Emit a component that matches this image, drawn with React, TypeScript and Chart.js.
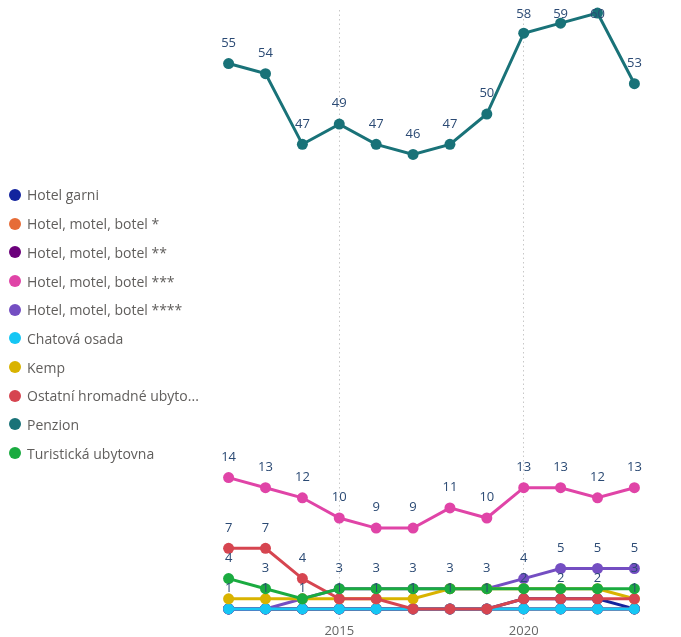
import React, { useEffect, useRef } from "react";
import { Chart, registerables } from "chart.js";

Chart.register(...registerables);

const years = ["2012", "2013", "2014", "2015", "2016", "2017", "2018", "2019", "2020", "2021", "2022", "2023"];
const shownYearTicks = ["2015", "2020"];

const seriesNames = [
  "Hotel garni",
  "Hotel, motel, botel *",
  "Hotel, motel, botel **",
  "Hotel, motel, botel ***",
  "Hotel, motel, botel ****",
  "Chatová osada",
  "Kemp",
  "Ostatní hromadné ubyto...",
  "Penzion",
  "Turistická ubytovna",
];

const seriesColors = [
  "#12239E",
  "#E66C37",
  "#6B007B",
  "#E044A7",
  "#744EC2",
  "#15C6F4",
  "#D9B300",
  "#D64550",
  "#197278",
  "#1AAB40",
];

const hotelGarni = [1, 1, 1, 1, 1, 1, 1, 1, 2, 2, 2, 1];
const hotel1 = [1, 1, 1, 1, 1, 1, 1, 1, 1, 1, 1, 1];
const hotel2 = [1, 1, 1, 1, 1, 1, 1, 1, 1, 1, 1, 1];
const hotel3 = [14, 13, 12, 10, 9, 9, 11, 10, 13, 13, 12, 13];
const hotel4 = [1, 1, 2, 3, 3, 3, 3, 3, 4, 5, 5, 5];
const chatovaOsada = [1, 1, 1, 1, 1, 1, 1, 1, 1, 1, 1, 1];
const kemp = [2, 2, 2, 2, 2, 2, 3, 3, 3, 3, 3, 2];
const ostatni = [7, 7, 4, 2, 2, 1, 1, 1, 2, 2, 2, 2];
const penzion = [55, 54, 47, 49, 47, 46, 47, 50, 58, 59, 60, 53];
const turisticka = [4, 3, 2, 3, 3, 3, 3, 3, 3, 3, 3, 3];

const seriesValues = [hotelGarni, hotel1, hotel2, hotel3, hotel4, chatovaOsada, kemp, ostatni, penzion, turisticka];

// indices of years whose data label is visible (others hidden as overlapping)
const labelsShown = [
  [],
  [],
  [],
  [0, 1, 2, 3, 4, 5, 6, 7, 8, 9, 10, 11],
  [8, 9, 10, 11],
  [0, 1, 2, 3, 4, 5, 6, 7, 11],
  [],
  [0, 1, 2, 8, 9, 10],
  [0, 1, 2, 3, 4, 5, 6, 7, 8, 9, 10, 11],
  [0, 1, 3, 4, 5, 6, 7, 11],
];

const FONT = '"Segoe UI", "Open Sans", sans-serif';

const dataLabelPlugin = {
  id: "dataLabels",
  afterDatasetsDraw(chart: any) {
    const ctx = chart.ctx;
    ctx.save();
    ctx.font = `13px ${FONT}`;
    ctx.fillStyle = "#2B4A74";
    ctx.textAlign = "center";
    ctx.textBaseline = "middle";
    chart.data.datasets.forEach((ds: any, di: number) => {
      const meta = chart.getDatasetMeta(di);
      const shown = labelsShown[di] || [];
      shown.forEach((i: number) => {
        const el = meta.data[i];
        if (!el) return;
        const y = Math.max(el.y - 20.5, 14);
        ctx.fillText(String(ds.data[i]), el.x, y);
      });
    });
    ctx.restore();
  },
};

export default function App() {
  const canvasRef = useRef<HTMLCanvasElement | null>(null);

  useEffect(() => {
    document.body.style.margin = "0";
    const canvas = canvasRef.current;
    if (!canvas) return;
    const n = seriesNames.length;
    const chart = new Chart(canvas, {
      type: "line",
      data: {
        labels: years,
        datasets: seriesNames.map((name, i) => ({
          label: name,
          data: seriesValues[i],
          borderColor: seriesColors[i],
          backgroundColor: seriesColors[i],
          pointBackgroundColor: seriesColors[i],
          pointBorderWidth: 0,
          pointRadius: 5.5,
          borderWidth: 3,
          tension: 0,
          clip: false as any,
          order: n - i,
        })),
      },
      options: {
        responsive: false,
        animation: false,
        devicePixelRatio: 1,
        layout: { padding: { left: 228.6, right: 46.6, top: 10, bottom: 0 } },
        plugins: {
          legend: { display: false },
          tooltip: { enabled: false },
        },
        scales: {
          x: {
            type: "category",
            offset: false,
            afterFit: (scale: any) => {
              scale.height = 18;
            },
            grid: {
              drawTicks: false,
              lineWidth: 1,
              color: (c: any) =>
                c.tick && shownYearTicks.includes(years[c.tick.value] ?? String(c.tick.label))
                  ? "#c8c8c8"
                  : "rgba(0,0,0,0)",
            },
            border: { display: false, dash: [1.5, 3] },
            ticks: {
              autoSkip: false,
              maxRotation: 0,
              padding: 4,
              color: "#666666",
              font: { family: FONT, size: 13 },
              callback: (v: any) => (shownYearTicks.includes(years[v]) ? years[v] : ""),
            },
          },
          y: {
            display: false,
            min: 0,
            max: 60.3,
          },
        },
      },
      plugins: [dataLabelPlugin],
    });
    return () => chart.destroy();
  }, []);

  return (
    <div style={{ position: "relative", width: 681, height: 637, fontFamily: FONT }}>
      <canvas ref={canvasRef} width={681} height={637} style={{ display: "block" }} />
      <div style={{ position: "absolute", left: 9, top: 180.6 }}>
        {seriesNames.map((name, i) => (
          <div
            key={name}
            style={{ display: "flex", alignItems: "center", height: 28.7, whiteSpace: "nowrap" }}
          >
            <span
              style={{
                display: "inline-block",
                width: 12,
                height: 12,
                borderRadius: "50%",
                background: seriesColors[i],
                marginRight: 6,
              }}
            />
            <span style={{ fontSize: 14, color: "#605E5C" }}>{name}</span>
          </div>
        ))}
      </div>
    </div>
  );
}
